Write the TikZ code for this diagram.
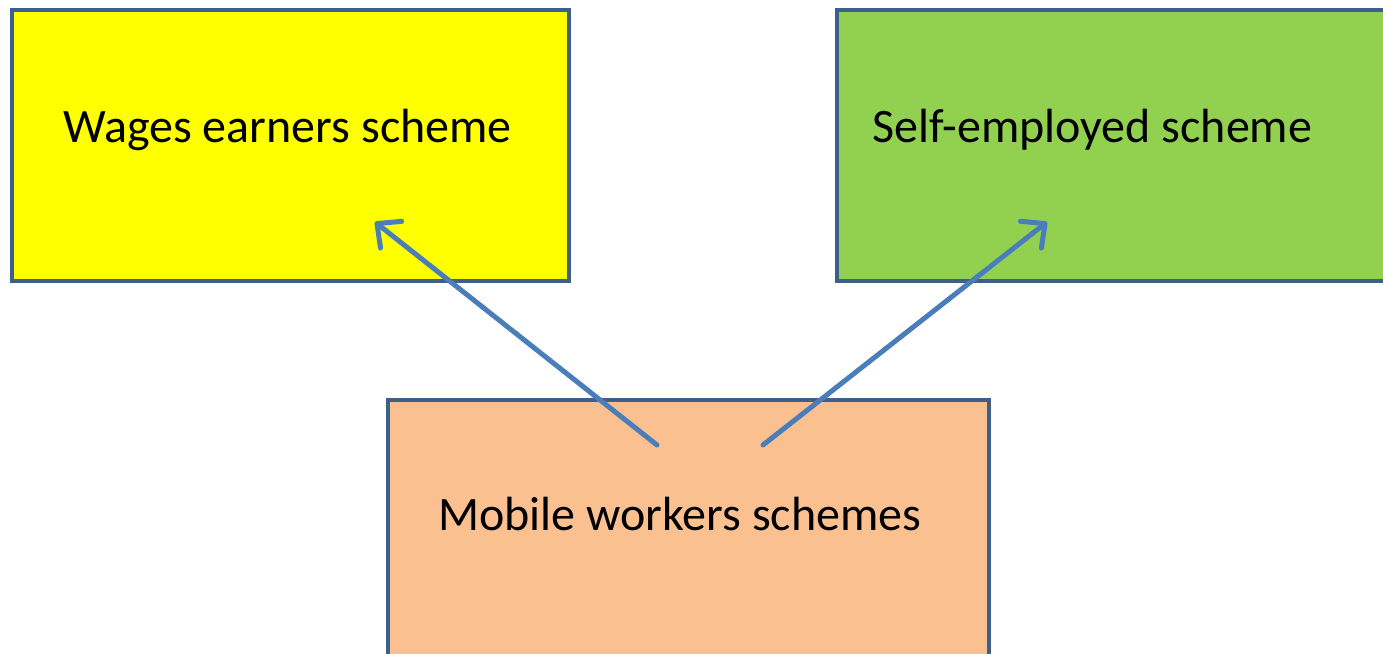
\documentclass[tikz,border=0pt]{standalone}
\usepackage{fontspec}
\setmainfont{Carlito}
\usetikzlibrary{arrows.meta}
\definecolor{boxedge}{RGB}{60,95,142}
\definecolor{wagefill}{RGB}{255,255,0}
\definecolor{selffill}{RGB}{146,208,80}
\definecolor{mobilefill}{RGB}{250,192,144}
\definecolor{linkblue}{RGB}{74,126,187}
\tikzset{
  schemebox/.style={draw=boxedge, line width=4bp, rectangle, inner sep=0pt},
  schemelabel/.style={anchor=base west, inner sep=0pt, font=\fontsize{48bp}{58bp}\selectfont},
  link/.style={draw=linkblue, line width=5bp, line cap=round,
    -{Straight Barb[length=18bp, width=34bp, line cap=round, line join=round]}}
}
\begin{document}
\begin{tikzpicture}[x=1bp, y=-1bp]
  \useasboundingbox (0,0) rectangle (1383,654);
  \clip (0,0) rectangle (1383,654);
  % boxes
  \node[schemebox, fill=wagefill, minimum width=557bp, minimum height=271bp] (wage) at (290.5,145.5) {};
  \node[schemebox, fill=selffill, minimum width=600bp, minimum height=271bp] (self) at (1137,145.5) {};
  \node[schemebox, fill=mobilefill, minimum width=601bp, minimum height=280bp] (mobile) at (688.5,540) {};
  % labels
  \node[schemelabel] (wagetext) at (63,142) {Wages earners scheme};
  \node[schemelabel] (selftext) at (872,142) {Self-employed scheme};
  \node[schemelabel] (mobiletext) at (438,530) {Mobile workers schemes};
  % connector end points
  \coordinate (fromL) at (657,445);
  \coordinate (toL) at (375,222);
  \coordinate (fromR) at (763,445);
  \coordinate (toR) at (1047,222);
  \draw[link] (fromL) -- (toL);
  \draw[link] (fromR) -- (toR);
\end{tikzpicture}
\end{document}
